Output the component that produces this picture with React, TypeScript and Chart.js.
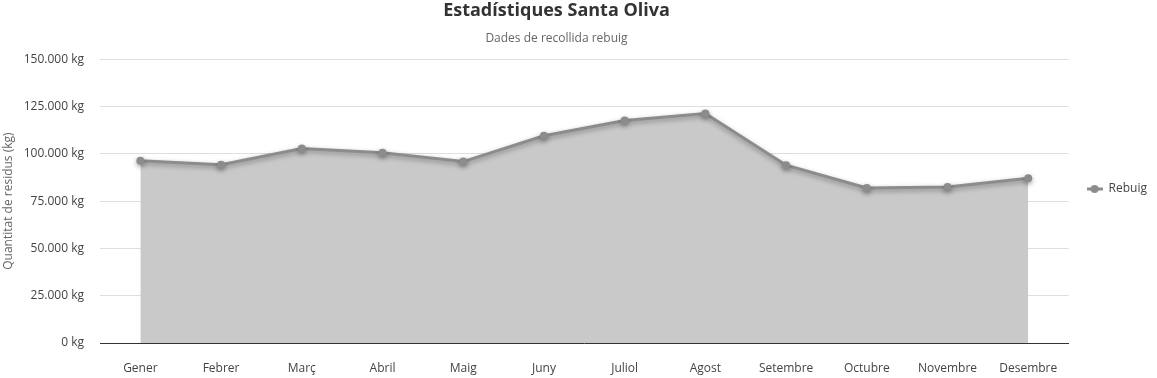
import React, { useEffect, useRef } from 'react';
import { Chart, registerables } from 'chart.js';

Chart.register(...registerables);

const TITLE = 'Estadístiques Santa Oliva';
const SUBTITLE = 'Dades de recollida rebuig';
const Y_TITLE = 'Quantitat de residus (kg)';
const SERIES_NAME = 'Rebuig';
const MONTHS = ['Gener', 'Febrer', 'Març', 'Abril', 'Maig', 'Juny', 'Juliol', 'Agost', 'Setembre', 'Octubre', 'Novembre', 'Desembre'];
const REBUIG_KG = [96300, 94200, 102800, 100500, 95900, 109500, 117600, 121300, 94000, 81900, 82400, 87100];
const Y_MIN = 0;
const Y_MAX = 150000;
const Y_STEP = 25000;

const FONT = '"Open Sans", "Noto Sans", sans-serif';
const LINE_COLOR = '#8c8c8c';
const FILL_COLOR = '#c9c9c9';
const TITLE_RIGHT_INSET = 44;

function fmtKg(v: number): string {
  return String(Math.round(v)).replace(/\B(?=(\d{3})+(?!\d))/g, '.') + ' kg';
}

const shadowPlugin = {
  id: 'lineShadow',
  beforeDatasetDraw(chart: any) {
    const ctx = chart.ctx;
    ctx.save();
    ctx.shadowColor = 'rgba(0,0,0,0.35)';
    ctx.shadowBlur = 5;
    ctx.shadowOffsetX = 0;
    ctx.shadowOffsetY = 2;
  },
  afterDatasetDraw(chart: any) {
    chart.ctx.restore();
  },
};

// Centre the title/subtitle over the area left of the legend.
const titleShiftPlugin = {
  id: 'titleShift',
  afterLayout(chart: any) {
    for (const b of chart.boxes) {
      if (b && b.position === 'top' && b.options && typeof b.options.text === 'string') {
        b.right = chart.width - TITLE_RIGHT_INSET;
        b.width = b.right - b.left;
      }
    }
  },
};

function makeLegendMarker(): HTMLCanvasElement {
  const c = document.createElement('canvas');
  c.width = 16;
  c.height = 10;
  const g = c.getContext('2d')!;
  g.strokeStyle = LINE_COLOR;
  g.lineWidth = 3;
  g.beginPath();
  g.moveTo(0, 5);
  g.lineTo(16, 5);
  g.stroke();
  g.fillStyle = LINE_COLOR;
  g.beginPath();
  g.arc(8, 5, 4, 0, Math.PI * 2);
  g.fill();
  return c;
}

export default function App() {
  const ref = useRef<HTMLCanvasElement | null>(null);

  useEffect(() => {
    if (!ref.current) return;
    const marker = makeLegendMarker();
    const chart = new Chart(ref.current, {
      type: 'line',
      data: {
        labels: MONTHS,
        datasets: [
          {
            label: SERIES_NAME,
            data: REBUIG_KG,
            borderColor: LINE_COLOR,
            borderWidth: 3,
            backgroundColor: FILL_COLOR,
            fill: 'origin',
            tension: 0,
            pointRadius: 4,
            pointHoverRadius: 4,
            pointBackgroundColor: LINE_COLOR,
            pointBorderColor: LINE_COLOR,
            pointBorderWidth: 0,
          },
        ],
      },
      options: {
        animation: false,
        responsive: true,
        maintainAspectRatio: false,
        layout: { padding: { left: 0, right: 0, top: 0, bottom: 0 } },
        plugins: {
          filler: { drawTime: 'beforeDatasetsDraw' },
          tooltip: { enabled: false },
          title: {
            display: true,
            text: TITLE,
            color: '#333',
            font: { family: FONT, size: 18, weight: 'bold' },
            padding: { top: 0.5, bottom: 7.5 },
          },
          subtitle: {
            display: true,
            text: SUBTITLE,
            color: '#666',
            font: { family: FONT, size: 12, weight: 'normal' },
            padding: { top: 1.4, bottom: 13.8 },
          },
          legend: {
            position: 'right',
            labels: {
              usePointStyle: true,
              pointStyleWidth: 16,
              padding: 18,
              color: '#444',
              font: { family: FONT, size: 12 },
              generateLabels(ch: any) {
                const items = (Chart.defaults.plugins.legend.labels as any).generateLabels(ch);
                items.forEach((it: any) => {
                  it.pointStyle = marker;
                });
                return items;
              },
            },
          },
        },
        scales: {
          x: {
            offset: true,
            grid: { display: false, drawTicks: false },
            border: { display: true, color: '#333', width: 1 },
            ticks: {
              padding: 18,
              color: '#444',
              font: { family: FONT, size: 12 },
              maxRotation: 0,
              autoSkip: false,
            },
            afterFit(s: any) {
              s.height = 35;
            },
          },
          y: {
            min: Y_MIN,
            max: Y_MAX,
            ticks: {
              stepSize: Y_STEP,
              padding: 16,
              color: '#444',
              font: { family: FONT, size: 12 },
              callback: (v: any) => fmtKg(Number(v)),
            },
            grid: { color: '#dfdfdf', drawTicks: false },
            border: { display: false },
            title: {
              display: true,
              text: Y_TITLE,
              color: '#666',
              font: { family: FONT, size: 12 },
              padding: { top: 1, bottom: 0 },
            },
            afterFit(s: any) {
              s.width = 100;
            },
          },
        },
      },
      plugins: [shadowPlugin, titleShiftPlugin],
    } as any);
    return () => chart.destroy();
  }, []);

  return (
    <div style={{ position: 'fixed', left: 0, top: 0, width: 1157, height: 378 }}>
      <canvas ref={ref} />
    </div>
  );
}
